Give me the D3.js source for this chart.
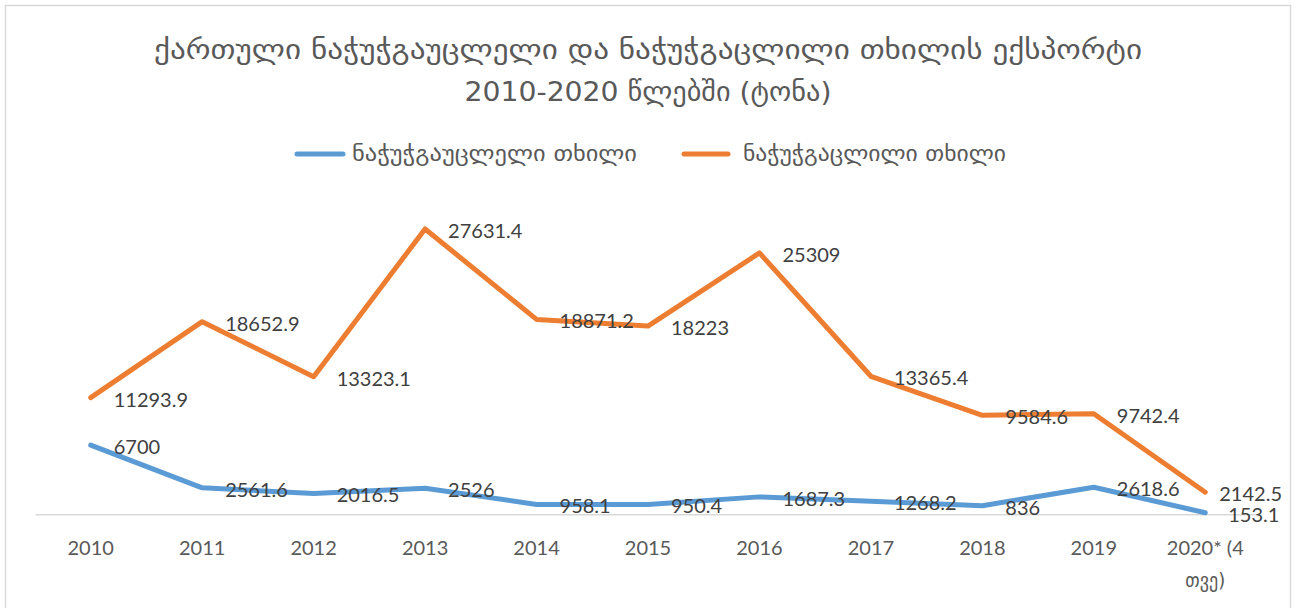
<!DOCTYPE html>
<html><head><meta charset="utf-8">
<script src="https://cdn.jsdelivr.net/npm/d3@7"></script>
<style>body{margin:0;background:#fff;}svg{display:block;}</style>
</head><body>
<svg id="c" width="1299" height="608"></svg>
<script>
const categories = ["2010","2011","2012","2013","2014","2015","2016","2017","2018","2019","2020* (4 თვე)"];
const tickLines = [["2010"],["2011"],["2012"],["2013"],["2014"],["2015"],["2016"],["2017"],["2018"],["2019"],["2020* (4","თვე)"]];
const unprocessed = [6700, 2561.6, 2016.5, 2526, 958.1, 950.4, 1687.3, 1268.2, 836, 2618.6, 153.1];
const processed = [11293.9, 18652.9, 13323.1, 27631.4, 18871.2, 18223, 25309, 13365.4, 9584.6, 9742.4, 2142.5];
const seriesNames = ["ნაჭუჭგაუცლელი თხილი", "ნაჭუჭგაცლილი თხილი"];
const titleLines = ["ქართული ნაჭუჭგაუცლელი და ნაჭუჭგაცლილი თხილის ექსპორტი", "2010-2020 წლებში (ტონა)"];

const svg = d3.select("#c");
const numFont = "Lato, 'Open Sans', sans-serif";
const geoFont = "'DejaVu Sans Condensed', 'DejaVu Sans', sans-serif";

svg.append("rect").attr("x",5.5).attr("y",5.5).attr("width",1285).attr("height",640)
  .attr("fill","#fff").attr("stroke","#d9d9d9").attr("stroke-width",1.5);

const x = d3.scaleBand().domain(categories).range([35,1261]);
const y = d3.scaleLinear().domain([0,30000]).range([514.3,204.5]);

// title
const tW = [988, 367];
const tY = [59, 101];
titleLines.forEach((t,i)=>{
  svg.append("text").attr("x",648).attr("y",tY[i]).attr("text-anchor","middle")
    .attr("font-family",geoFont).attr("font-size",27).attr("fill","#595959")
    .attr("textLength",tW[i]).attr("lengthAdjust","spacingAndGlyphs").text(t);
});

// legend
const colors = ["#5B9BD5","#ED7D31"];
const leg = [{x1:297,x2:343,tx:352,tw:285},{x1:684,x2:728,tx:743,tw:263}];
leg.forEach((l,i)=>{
  svg.append("line").attr("x1",l.x1).attr("x2",l.x2).attr("y1",154).attr("y2",154)
    .attr("stroke",colors[i]).attr("stroke-width",5).attr("stroke-linecap","round");
  svg.append("text").attr("x",l.tx).attr("y",161).attr("font-family",geoFont).attr("font-size",21)
    .attr("fill","#595959").attr("textLength",l.tw).attr("lengthAdjust","spacingAndGlyphs").text(seriesNames[i]);
});

// axis
const ax = svg.append("g").attr("transform","translate(0,514.3)").call(d3.axisBottom(x).tickSize(0).tickFormat(""));
ax.select(".domain").attr("stroke","#d9d9d9").attr("stroke-width",1.5);
categories.forEach((c,i)=>{
  const t = svg.append("text").attr("text-anchor","middle").attr("font-family",numFont)
    .attr("font-size",20).attr("fill","#595959");
  tickLines[i].forEach((ln,j)=>{
    t.append("tspan").attr("x",x(c)+x.bandwidth()/2).attr("y",555+j*32)
     .attr("font-family", /[\u10A0-\u10FF]/.test(ln) ? geoFont : numFont).text(ln);
  });
});

const line = d3.line().x((d,i)=>x(categories[i])+x.bandwidth()/2).y(d=>y(d));
[unprocessed, processed].forEach((s,k)=>{
  svg.append("path").datum(s).attr("d",line).attr("fill","none").attr("stroke",colors[k])
    .attr("stroke-width",5).attr("stroke-linejoin","round").attr("stroke-linecap","round");
});
const maxRight = 1282;
[unprocessed, processed].forEach((s,k)=>{
  svg.append("g").selectAll("text").data(s).join("text")
    .attr("x",(d,i)=>x(categories[i])+x.bandwidth()/2+23)
    .attr("y",d=>y(d)+2).attr("dy","0.35em")
    .attr("font-family",numFont).attr("font-size",20).attr("fill","#404040")
    .text(d=>String(d))
    .each(function(){
      const el = d3.select(this);
      const w = this.getComputedTextLength();
      const x0 = +el.attr("x");
      if (x0 + w > maxRight) el.attr("x", maxRight - w);
    });
});
</script>
</body></html>
